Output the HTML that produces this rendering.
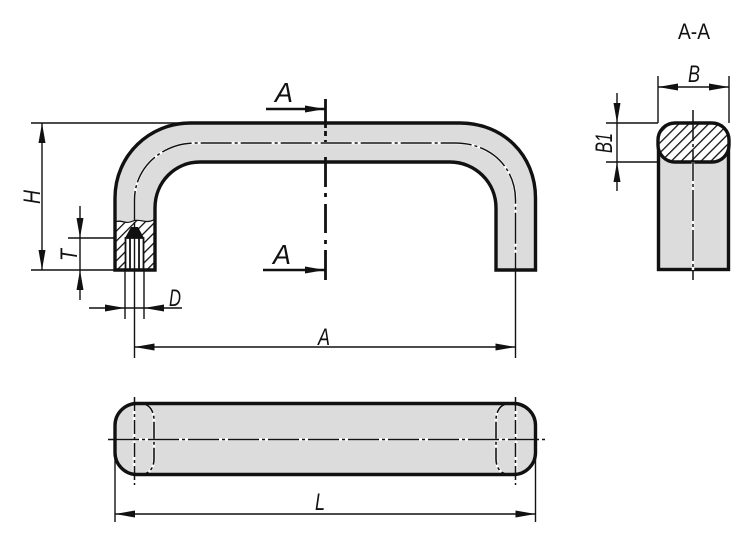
<!DOCTYPE html>
<html><head><meta charset="utf-8"><style>
html,body{margin:0;padding:0;background:#fff}
svg{display:block}
text{font-family:"Liberation Sans",sans-serif;fill:#111}
.i{font-style:italic;font-size:24px}
</style></head><body>
<svg width="750" height="543" viewBox="0 0 750 543" xmlns="http://www.w3.org/2000/svg">
<defs>
<pattern id="h" width="7" height="7" patternUnits="userSpaceOnUse" patternTransform="rotate(45)"><rect width="7" height="7" fill="#fff"/><rect width="1.300" height="7" fill="#111"/></pattern>
<marker id="a" markerWidth="22" markerHeight="10" refX="20" refY="4" orient="auto-start-reverse" markerUnits="userSpaceOnUse"><path d="M0 0.500L20 4L0 7.500Z" fill="#111"/></marker>
</defs>

<!-- main handle -->
<path d="M115 270V198C115 155 150 123 190 123H460C503 123 535.500 155 535.500 198V270H496V208C496 182 475 162 450 162H200C175 162 155 182 155 208V270Z" fill="#dcdcdc"/>
<path d="M134.500 222V200C134.500 167 163 143 195 143H455C490 143 515.500 167 515.500 200V270" fill="none" stroke="#fff" stroke-width="2.500"/>
<path d="M134.500 222V200C134.500 167 163 143 195 143H455C490 143 515.500 167 515.500 200V270" fill="none" stroke="#111" stroke-width="1.500" stroke-dasharray="31 3 3 3"/>
<!-- hatched end -->
<path d="M115 222C122 219 125 225 133 221C140 218 146 225 155 219V270H115Z" fill="url(#h)"/>
<path d="M125 270V238L131 228H138L144 238V270Z" fill="#fff"/>
<path d="M125 238H144L138 227H131Z" fill="#111"/>
<path d="M115 222C122 219 125 225 133 221C140 218 146 225 155 219" fill="none" stroke="#111" stroke-width="1.200"/>
<path d="M125.500 270V238H143.500V270M130 238V270M139 238V270" fill="none" stroke="#111" stroke-width="1.800"/>
<path d="M115 270V198C115 155 150 123 190 123H460C503 123 535.500 155 535.500 198V270H496V208C496 182 475 162 450 162H200C175 162 155 182 155 208V270Z" fill="none" stroke="#111" stroke-width="3.400"/>

<!-- section line -->
<g stroke="#111" stroke-width="2.800" fill="none"><path d="M325.500 99V128M325.500 157V187M325.500 204V233M325.500 250V280M325.500 193V197M325.500 240V244M325.500 131V136M325.500 140V142"/></g>
<path d="M266 109H325" stroke="#111" stroke-width="2.400" marker-end="url(#a)"/>
<path d="M263 270H325" stroke="#111" stroke-width="2.400" marker-end="url(#a)"/>
<text class="i" x="275" y="102" style="font-size:28px" textLength="18" lengthAdjust="spacingAndGlyphs">A</text>
<text class="i" x="273" y="264" style="font-size:28px" textLength="18" lengthAdjust="spacingAndGlyphs">A</text>

<!-- left dims -->
<g stroke="#111" stroke-width="1.400" fill="none">
<path d="M31 123H190M31 270H115M68 238H115"/>
<path d="M42 123V270" marker-start="url(#a)" marker-end="url(#a)"/>
<path d="M80 206V238" marker-end="url(#a)"/>
<path d="M80 300V270" marker-end="url(#a)"/>
<path d="M80 238V270"/>
<path d="M125 270V319M144 270V319M134.500 222V358M515.500 270V358"/>
<path d="M89 308H125" marker-end="url(#a)"/>
<path d="M182 308H144" marker-end="url(#a)"/>
<path d="M125 308H144"/>
<path d="M134.500 347H515.500" marker-start="url(#a)" marker-end="url(#a)"/>
</g>
<text class="i" transform="translate(40 204) rotate(-90)" textLength="14" lengthAdjust="spacingAndGlyphs">H</text>
<text class="i" transform="translate(77 261) rotate(-90)" textLength="12" lengthAdjust="spacingAndGlyphs">T</text>
<text class="i" x="169" y="306" textLength="12" lengthAdjust="spacingAndGlyphs">D</text>
<text class="i" x="318" y="345" textLength="12" lengthAdjust="spacingAndGlyphs">A</text>

<!-- section view -->
<rect x="658.500" y="140" width="70" height="129.500" fill="#dcdcdc" stroke="#111" stroke-width="3.400"/>
<rect x="658" y="123" width="71" height="39" rx="17" fill="url(#h)" stroke="#111" stroke-width="3.400"/>
<path d="M693 162V270" stroke="#fff" stroke-width="2.500"/>
<path d="M693 110V280" stroke="#111" stroke-width="1.500" stroke-dasharray="31 3 3 3"/>
<g stroke="#111" stroke-width="1.400" fill="none">
<path d="M658 76V123M729 76V123M606 123H658M606 162H658"/>
<path d="M658 87H729" marker-start="url(#a)" marker-end="url(#a)"/>
<path d="M617 93V123" marker-end="url(#a)"/>
<path d="M617 191V162" marker-end="url(#a)"/>
<path d="M617 123V162"/>
</g>
<text class="i" x="688" y="82" textLength="12" lengthAdjust="spacingAndGlyphs">B</text>
<text class="i" transform="translate(612 153) rotate(-90)" textLength="20" lengthAdjust="spacingAndGlyphs">B1</text>
<text x="678" y="39" style="font-size:22px" textLength="32" lengthAdjust="spacingAndGlyphs">A-A</text>

<!-- top view -->
<rect x="115" y="403.500" width="420.500" height="71" rx="22" fill="#dcdcdc"/>
<path d="M115 439.500H535" stroke="#fff" stroke-width="2.500"/>
<path d="M134 397V485M516 397V485" stroke="#fff" stroke-width="2.500"/>
<path d="M140 403.500C150 403.500 154 412 154 420V459C154 467 150 474.500 140 474.500M510 403.500C500 403.500 496 412 496 420V459C496 467 500 474.500 510 474.500" fill="none" stroke="#fff" stroke-width="2.500"/>
<path d="M140 403.500C150 403.500 154 412 154 420V459C154 467 150 474.500 140 474.500M510 403.500C500 403.500 496 412 496 420V459C496 467 500 474.500 510 474.500" fill="none" stroke="#111" stroke-width="1.600" stroke-dasharray="17 3 3 3"/>
<rect x="115" y="403.500" width="420.500" height="71" rx="22" fill="none" stroke="#111" stroke-width="3.400"/>
<path d="M108 439.500H546" stroke="#111" stroke-width="1.500" stroke-dasharray="31 3 3 3"/>
<path d="M134.500 397V485M515.500 397V485" stroke="#111" stroke-width="1.500" stroke-dasharray="14 3 3 3"/>
<g stroke="#111" stroke-width="1.400" fill="none">
<path d="M115 440V522M535.500 440V522"/>
<path d="M115 514H535.500" marker-start="url(#a)" marker-end="url(#a)"/>
</g>
<text class="i" x="315" y="510" textLength="10" lengthAdjust="spacingAndGlyphs">L</text>
</svg>
</body></html>
